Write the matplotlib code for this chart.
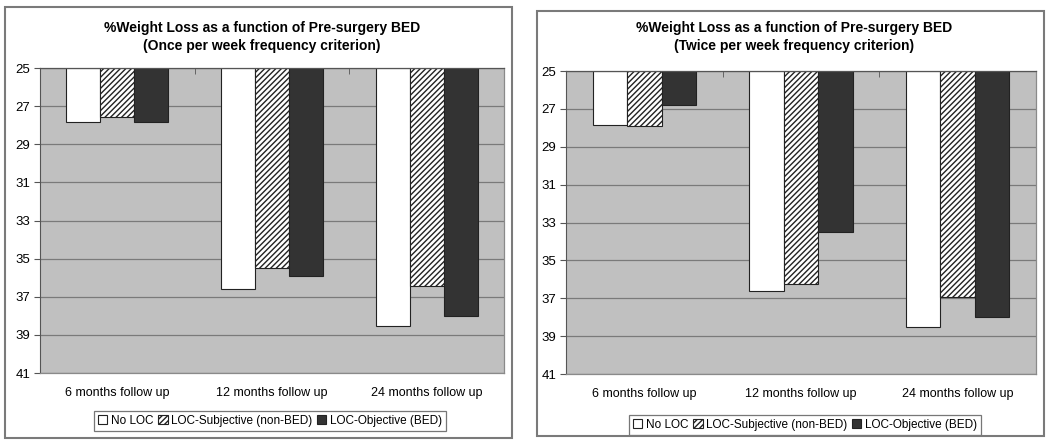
import numpy as np
import matplotlib
matplotlib.use("Agg")
import matplotlib.pyplot as plt
from matplotlib.patches import Rectangle

plt.rcParams['font.family'] = ['Liberation Sans', 'DejaVu Sans']
plt.rcParams['hatch.linewidth'] = 1.0

# data
categories = ["6 months follow up", "12 months follow up", "24 months follow up"]
series = ["No LOC", "LOC-Subjective (non-BED)", "LOC-Objective (BED)"]

once_no_loc = [27.83, 36.6, 38.55]
once_subjective = [27.55, 35.5, 36.45]
once_objective = [27.85, 35.9, 38.0]

twice_no_loc = [27.85, 36.6, 38.5]
twice_subjective = [27.9, 36.25, 36.95]
twice_objective = [26.78, 33.5, 38.0]

titles = ["%Weight Loss as a function of Pre-surgery BED\n(Once per week frequency criterion)",
          "%Weight Loss as a function of Pre-surgery BED\n(Twice per week frequency criterion)"]

yticks = [25, 27, 29, 31, 33, 35, 37, 39, 41]

fig = plt.figure(figsize=(10.5, 4.44), dpi=100)
W, H = 1050, 444

# panel frames
for (x0, y0, x1, y1) in [(5, 7, 512, 438), (537, 11, 1044, 436)]:
    fig.patches.append(Rectangle((x0 / W, 1 - y1 / H), (x1 - x0) / W, (y1 - y0) / H,
                                 transform=fig.transFigure, fill=False,
                                 edgecolor="#7a7a7a", linewidth=1.5))

axes_px = [(40, 68, 504, 373), (566, 71, 1036, 374)]
title_x = [262, 794]
legend_x = [270, 805]
legend_y = [421, 425]
panels = [(once_no_loc, once_subjective, once_objective),
          (twice_no_loc, twice_subjective, twice_objective)]

x = np.arange(len(categories))
bw = 0.22
styles = [dict(color="white", hatch=None),
          dict(color="white", hatch="//////"),
          dict(color="#333333", hatch=None)]

for k, (x0, y0, x1, y1) in enumerate(axes_px):
    ax = fig.add_axes([x0 / W, 1 - y1 / H, (x1 - x0) / W, (y1 - y0) / H])
    ax.set_facecolor("#c0c0c0")
    ax.set_axisbelow(True)
    ax.yaxis.grid(True, color="#7a7a7a", linewidth=0.9)
    for i, vals in enumerate(panels[k]):
        vals = np.array(vals)
        ax.bar(x + (i - 1) * bw, vals - 25, bottom=25, width=bw,
               facecolor=styles[i]["color"], hatch=styles[i]["hatch"],
               edgecolor="#222222", linewidth=0.8, label=series[i])
    ax.set_ylim(41, 25)
    ax.set_xlim(-0.5, 2.5)
    ax.set_yticks(yticks)
    ax.set_xticks(x)
    ax.set_xticklabels(categories, fontsize=9)
    ax.tick_params(axis="x", length=0, pad=10)
    ax.set_xticks([0.5, 1.5], minor=True)
    ax.tick_params(axis="x", which="minor", top=True, bottom=False, direction="in", length=4,
                   color="#555555")
    ax.tick_params(axis="y", labelsize=9.5, length=4, color="#555555", pad=3)
    for side in ["right", "bottom", "top"]:
        ax.spines[side].set_color("#8a8a8a")
        ax.spines[side].set_linewidth(0.9)
    ax.spines["left"].set_color("#555555")
    ax.spines["top"].set_color("#555555")
    fig.text(title_x[k] / W, 1 - 37 / H, titles[k], ha="center", va="center",
             fontsize=10, fontweight="bold", linespacing=1.35)
    leg = ax.legend(loc="center", bbox_to_anchor=(legend_x[k] / W, 1 - legend_y[k] / H),
                    bbox_transform=fig.transFigure, ncol=3, fontsize=8.5, frameon=True,
                    fancybox=False, edgecolor="#555555", handlelength=0.8, handleheight=0.8,
                    handletextpad=0.3, columnspacing=0.4, borderpad=0.3)
    leg.get_frame().set_linewidth(0.9)

fig.savefig("out.png", dpi=100)
